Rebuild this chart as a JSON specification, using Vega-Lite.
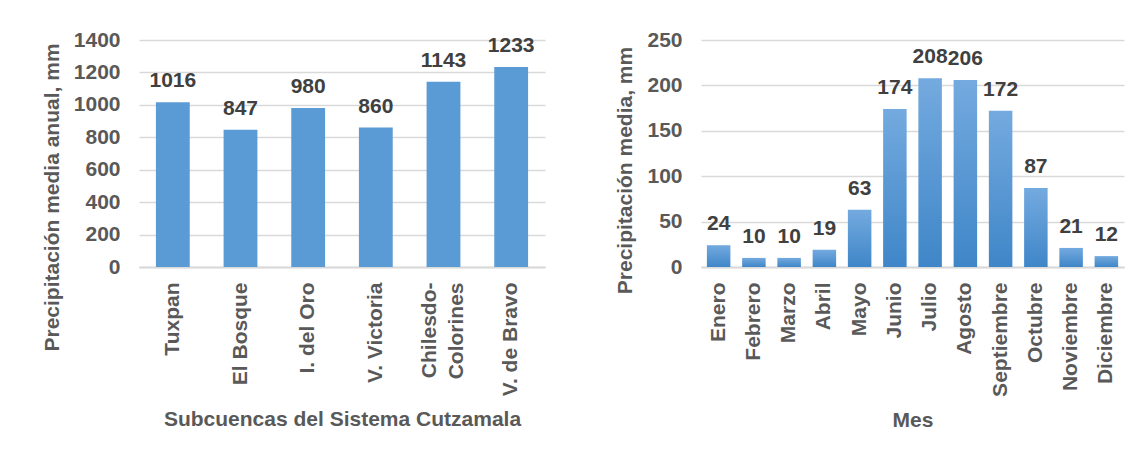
{
  "$schema": "https://vega.github.io/schema/vega-lite/v6.json",
  "padding": {"left": 41, "top": 29, "right": 10, "bottom": 10},
  "background": "white",
  "spacing": 69,
  "config": {
    "font": "Liberation Sans",
    "view": {"stroke": null},
    "axis": {
      "labelFont": "Liberation Sans",
      "labelFontSize": 21,
      "labelFontWeight": "bold",
      "labelColor": "#595959",
      "titleFont": "Liberation Sans",
      "titleFontSize": 21,
      "titleFontWeight": "bold",
      "titleColor": "#595959",
      "ticks": false,
      "gridColor": "#D9D9D9",
      "gridWidth": 1.5,
      "domainColor": "#D9D9D9",
      "domainWidth": 2
    },
    "axisX": {"grid": false, "domain": true, "labelAngle": -90, "labelPadding": 15, "titlePadding": 13, "labelLineHeight": 27},
    "axisY": {"grid": true, "domain": false, "labelPadding": 19, "titlePadding": 11, "format": "d"}
  },
  "hconcat": [
    {
      "width": 406,
      "height": 227,
      "data": {"values": [
        {"subcuenca": "Tuxpan", "precip": 1016},
        {"subcuenca": "El Bosque", "precip": 847},
        {"subcuenca": "I. del Oro", "precip": 980},
        {"subcuenca": "V. Victoria", "precip": 860},
        {"subcuenca": "Chilesdo-Colorines", "precip": 1143},
        {"subcuenca": "V. de Bravo", "precip": 1233}
      ]},
      "encoding": {
        "x": {"field": "subcuenca", "type": "nominal", "sort": null,
          "scale": {"paddingInner": 0.5, "paddingOuter": 0.25},
          "axis": {"title": "Subcuencas del Sistema Cutzamala",
            "labelOffset": {"condition": {"test": "datum.value == 'Chilesdo-Colorines'", "value": -14}, "value": 0},
            "labelExpr": "datum.value == 'Chilesdo-Colorines' ? ['Chilesdo-', 'Colorines'] : datum.value"}},
        "y": {"field": "precip", "type": "quantitative",
          "scale": {"domain": [0, 1400]},
          "axis": {"title": "Precipitación media anual, mm", "values": [0, 200, 400, 600, 800, 1000, 1200, 1400], "titleY": 157}}
      },
      "layer": [
        {"mark": {"type": "bar", "color": "#5B9BD5"}},
        {"mark": {"type": "text", "dy": -15, "baseline": "alphabetic", "fontSize": 21, "fontWeight": "bold", "color": "#404040", "font": "Liberation Sans"},
         "encoding": {"text": {"field": "precip", "type": "quantitative"}}}
      ]
    },
    {
      "width": 423,
      "height": 227,
      "data": {"values": [
        {"mes": "Enero", "precip": 24},
        {"mes": "Febrero", "precip": 10},
        {"mes": "Marzo", "precip": 10},
        {"mes": "Abril", "precip": 19},
        {"mes": "Mayo", "precip": 63},
        {"mes": "Junio", "precip": 174},
        {"mes": "Julio", "precip": 208},
        {"mes": "Agosto", "precip": 206},
        {"mes": "Septiembre", "precip": 172},
        {"mes": "Octubre", "precip": 87},
        {"mes": "Noviembre", "precip": 21},
        {"mes": "Diciembre", "precip": 12}
      ]},
      "encoding": {
        "x": {"field": "mes", "type": "nominal", "sort": null,
          "scale": {"paddingInner": 0.333, "paddingOuter": 0.167},
          "axis": {"title": "Mes"}},
        "y": {"field": "precip", "type": "quantitative",
          "scale": {"domain": [0, 250]},
          "axis": {"title": "Precipitación media, mm", "values": [0, 50, 100, 150, 200, 250], "titleY": 130}}
      },
      "layer": [
        {"mark": {"type": "bar", "color": {"gradient": "linear", "x1": 0, "y1": 0, "x2": 0, "y2": 1,
          "stops": [{"offset": 0, "color": "#74AADF"}, {"offset": 1, "color": "#3F86C8"}]}}},
        {"mark": {"type": "text", "dy": -15, "baseline": "alphabetic", "fontSize": 21, "fontWeight": "bold", "color": "#404040", "font": "Liberation Sans"},
         "encoding": {"text": {"field": "precip", "type": "quantitative"}}}
      ]
    }
  ]
}
